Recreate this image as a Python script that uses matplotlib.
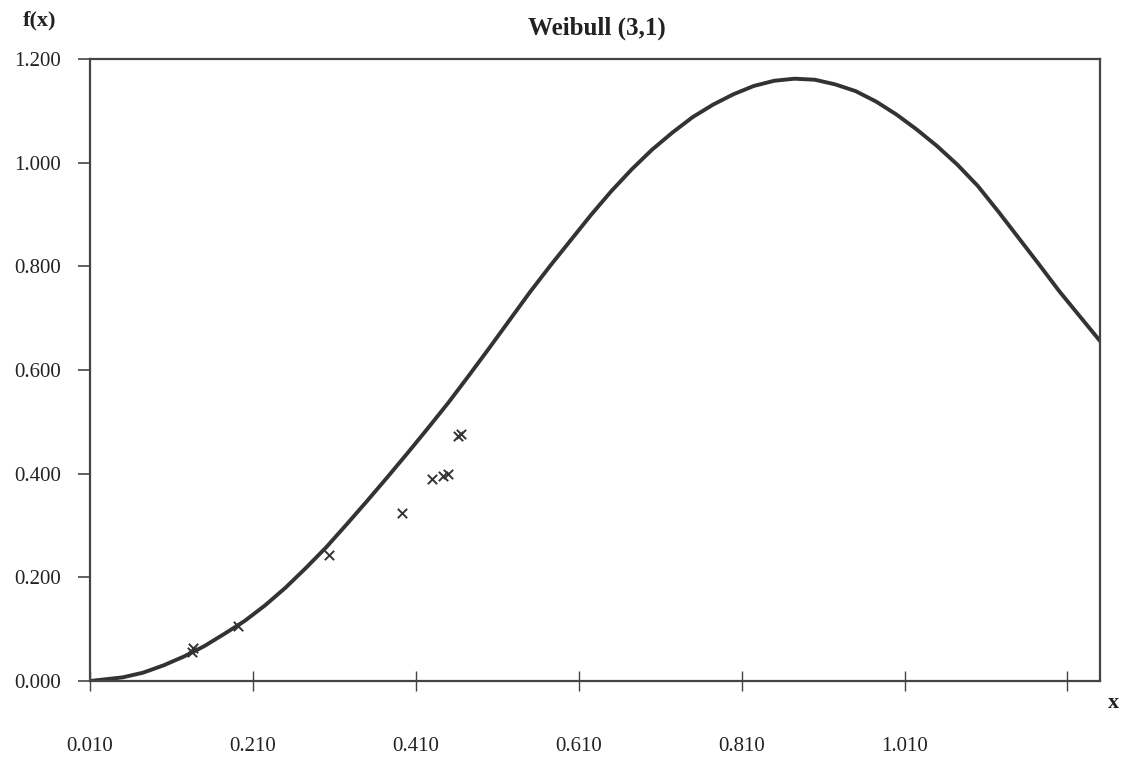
import matplotlib
matplotlib.use("Agg")
import matplotlib.pyplot as plt

# Curve readings (x, f(x))
curve_x = [0.010, 0.050, 0.075, 0.100, 0.125, 0.150, 0.175, 0.200, 0.225, 0.250,
           0.275, 0.300, 0.325, 0.350, 0.375, 0.400, 0.425, 0.450, 0.475, 0.500,
           0.525, 0.550, 0.575, 0.600, 0.625, 0.650, 0.675, 0.700, 0.725, 0.750,
           0.775, 0.800, 0.825, 0.850, 0.875, 0.900, 0.925, 0.950, 0.975, 1.000,
           1.025, 1.050, 1.075, 1.100, 1.125, 1.150, 1.175, 1.200, 1.225, 1.250]
curve_y = [0.000, 0.007, 0.016, 0.030, 0.047, 0.067, 0.091, 0.116, 0.146, 0.180,
           0.218, 0.258, 0.302, 0.347, 0.393, 0.440, 0.488, 0.537, 0.589, 0.642,
           0.696, 0.750, 0.801, 0.850, 0.899, 0.945, 0.987, 1.025, 1.058, 1.088,
           1.112, 1.132, 1.148, 1.158, 1.162, 1.160, 1.151, 1.138, 1.118, 1.093,
           1.064, 1.032, 0.996, 0.955, 0.906, 0.855, 0.804, 0.752, 0.704, 0.656]

# Observed points (x markers)
pts_x = [0.135, 0.137, 0.192, 0.303, 0.393, 0.430, 0.443, 0.450, 0.462, 0.465]
pts_y = [0.056, 0.064, 0.106, 0.243, 0.324, 0.390, 0.396, 0.400, 0.473, 0.477]

x_ticks = [0.010, 0.210, 0.410, 0.610, 0.810, 1.010, 1.210]
x_tick_labels = ["0.010", "0.210", "0.410", "0.610", "0.810", "1.010", ""]
y_ticks = [0.0, 0.2, 0.4, 0.6, 0.8, 1.0, 1.2]
y_tick_labels = ["0.000", "0.200", "0.400", "0.600", "0.800", "1.000", "1.200"]

title = "Weibull (3,1)"
ylabel = "f(x)"
xlabel = "x"

plt.rcParams['font.family'] = ['Liberation Serif', 'DejaVu Serif']

fig = plt.figure(figsize=(11.27, 7.61), dpi=100)
ax = fig.add_axes([90/1127, 1 - 681/761, (1100-90)/1127, (681-59)/761])

ink = "#333333"
ax.plot(curve_x, curve_y, color=ink, lw=2.8, solid_capstyle='round',
        solid_joinstyle='round')
ax.scatter(pts_x, pts_y, marker='x', s=45, color=ink, linewidths=1.4, zorder=3)

ax.set_xlim(0.01, 1.25)
ax.set_ylim(0.0, 1.2)
ax.set_xticks(x_ticks)
ax.set_xticklabels(x_tick_labels)
ax.set_yticks(y_ticks)
ax.set_yticklabels(y_tick_labels)

for s in ax.spines.values():
    s.set_color("#444444")
    s.set_linewidth(1.6)

ax.tick_params(axis='x', direction='inout', length=14, width=1.0, colors="#444444",
               labelcolor="#222222", labelsize=15, pad=33)
ax.tick_params(axis='y', direction='out', length=9, width=1.2, colors="#444444",
               labelcolor="#222222", labelsize=15, pad=12)

fig.text(597/1127, 1 - 28/761, title, ha='center', va='center', fontsize=18,
         fontweight='bold', color="#222222")
fig.text(40/1127, 1 - 20/761, ylabel, ha='center', va='center', fontsize=16,
         fontweight='bold', color="#222222")
fig.text(1113/1127, 1 - 703/761, xlabel, ha='center', va='center', fontsize=16,
         fontweight='bold', color="#222222")

fig.savefig("out.png", dpi=100)
